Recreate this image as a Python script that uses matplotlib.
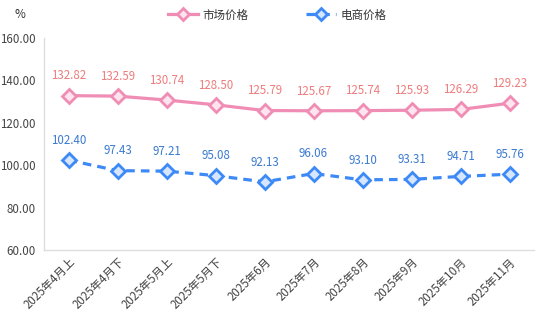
import matplotlib
matplotlib.use("Agg")
import matplotlib.pyplot as plt

plt.rcParams['font.family'] = ['Noto Sans CJK SC', 'DejaVu Sans']

categories = ["2025年4月上", "2025年4月下", "2025年5月上", "2025年5月下", "2025年6月",
              "2025年7月", "2025年8月", "2025年9月", "2025年10月", "2025年11月"]
market_price = [132.82, 132.59, 130.74, 128.50, 125.79, 125.67, 125.74, 125.93, 126.29, 129.23]
ecommerce_price = [102.40, 97.43, 97.21, 95.08, 92.13, 96.06, 93.10, 93.31, 94.71, 95.76]
series_names = ["市场价格", "电商价格"]
y_ticks = [60, 80, 100, 120, 140, 160]

fig = plt.figure(figsize=(5.54, 3.27), dpi=100)
ax = fig.add_axes([44 / 554, 77 / 327, 490 / 554, 212 / 327])

x = list(range(len(categories)))
pink = "#f08db4"
blue = "#3d8af7"

ax.plot(x, market_price, color=pink, lw=2.3, marker="D", ms=7.2,
        mfc="#fde4ee", mec=pink, mew=2.0, label=series_names[0], zorder=3)
ax.plot(x, ecommerce_price, color=blue, lw=2.3, ls=(0, (2.7, 1.9)), marker="D", ms=7.2,
        mfc="#d6e6ff", mec=blue, mew=2.0, label=series_names[1], zorder=3)

for xi, v in zip(x, market_price):
    ax.annotate(f"{v:.2f}", (xi, v), xytext=(0, 9.5), textcoords="offset points",
                ha="center", va="bottom", fontsize=8.3, color="#ee7c7c")
for xi, v in zip(x, ecommerce_price):
    ax.annotate(f"{v:.2f}", (xi, v), xytext=(0, 9.5), textcoords="offset points",
                ha="center", va="bottom", fontsize=8.3, color="#3a7ad0")

ax.set_xlim(-0.5, len(categories) - 0.5)
ax.set_ylim(60, 160)
ax.set_yticks(y_ticks)
ax.set_yticklabels([f"{t:.2f}" for t in y_ticks], fontsize=8.3, color="#444444")
ax.set_xticks(x)
ax.set_xticklabels(categories, rotation=45, ha="right", va="top",
                   rotation_mode="anchor", fontsize=8.3, color="#444444")
ax.tick_params(axis="both", length=0, pad=6)
ax.tick_params(axis="x", pad=4)

for side in ["top", "right"]:
    ax.spines[side].set_visible(False)
for side in ["left", "bottom"]:
    ax.spines[side].set_color("#dddddd")
    ax.spines[side].set_linewidth(1)

fig.text(20 / 554, 1 - 14 / 327, "%", fontsize=8.5, color="#333333",
         ha="center", va="center")

ax.legend(loc="center", bbox_to_anchor=(0.5, 1 - 15 / 327), bbox_transform=fig.transFigure,
          ncol=2, frameon=False, fontsize=8.3, handlelength=2.6, columnspacing=5,
          handletextpad=0.4, markerscale=0.8, labelcolor="#333333")

fig.savefig("out.png", dpi=100)
